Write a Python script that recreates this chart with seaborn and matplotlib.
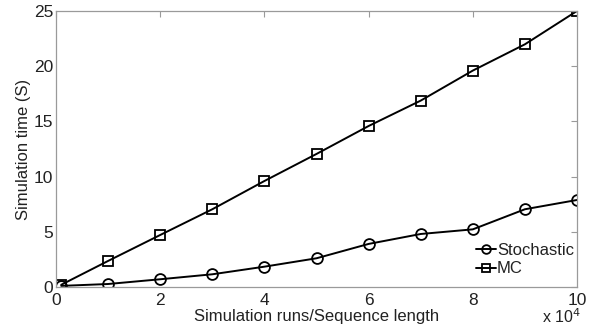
import matplotlib
matplotlib.use("Agg")
import matplotlib.pyplot as plt
import seaborn as sns
import pandas as pd
from matplotlib.ticker import FuncFormatter

runs = [1000, 10000, 20000, 30000, 40000, 50000, 60000, 70000, 80000, 90000, 100000]
stochastic = [0.1, 0.27, 0.7, 1.15, 1.84, 2.6, 3.9, 4.8, 5.22, 7.04, 7.88]
mc = [0.2, 2.36, 4.71, 7.04, 9.6, 12.05, 14.58, 16.88, 19.6, 21.98, 25.0]
series_names = ["Stochastic", "MC"]
x_ticks = [0, 20000, 40000, 60000, 80000, 100000]
y_ticks = [0, 5, 10, 15, 20, 25]

df = pd.DataFrame({
    "runs": runs * 2,
    "time": stochastic + mc,
    "method": [series_names[0]] * len(runs) + [series_names[1]] * len(runs),
})

sns.set_style("white")
plt.rcParams["font.family"] = ["Liberation Sans", "DejaVu Sans"]

fig = plt.figure(figsize=(5.94, 3.29), dpi=100)
ax = fig.add_axes([0.0943, 0.1277, 0.8771, 0.839])

sns.lineplot(data=df, x="runs", y="time", hue="method", style="method",
             markers={"Stochastic": "o", "MC": "s"}, dashes=False,
             palette={"Stochastic": "black", "MC": "black"},
             linewidth=1.4, markersize=7.8, markerfacecolor="none",
             markeredgecolor="black", markeredgewidth=1.3, ax=ax, legend=True)

ax.set_xlim(0, 100000)
ax.set_ylim(0, 25)
ax.set_xticks(x_ticks)
ax.set_yticks(y_ticks)
ax.xaxis.set_major_formatter(FuncFormatter(lambda v, p: f"{v/1e4:g}"))

for s in ax.spines.values():
    s.set_color("#9a9a9a")
    s.set_linewidth(0.9)
ax.tick_params(direction="in", length=4, width=0.8, color="#9a9a9a",
               top=True, right=True, labelsize=12.5, labelcolor="#222222")
ax.tick_params(axis="x", pad=4)
ax.tick_params(axis="y", pad=2)

ax.set_xlabel("Simulation runs/Sequence length", fontsize=12, color="#222222", labelpad=1)
ax.set_ylabel("Simulation time (S)", fontsize=12, color="#222222", labelpad=2)

ax.text(0.97, -0.075, "x 10$^{4}$", transform=ax.transAxes, ha="center", va="top",
        fontsize=11.5, color="#222222")

leg = ax.legend(loc="lower right", bbox_to_anchor=(1.02, -0.01), frameon=False,
                fontsize=12, handlelength=1.2, handletextpad=0.05, labelspacing=0.2,
                borderpad=0.3, markerscale=0.8)
for t in leg.get_texts():
    t.set_color("#222222")

fig.savefig("out.png", dpi=100)
